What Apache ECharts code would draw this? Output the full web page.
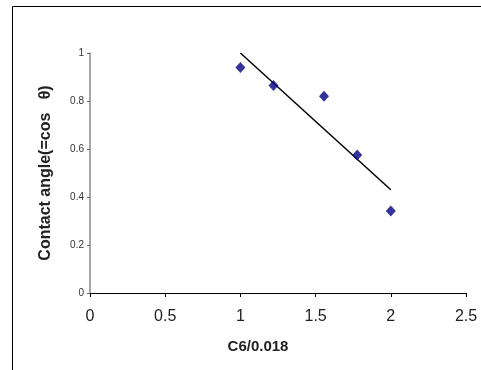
<!DOCTYPE html>
<html><head><meta charset="utf-8">
<script src="https://cdn.jsdelivr.net/npm/echarts@6/dist/echarts.min.js"></script>
<style>html,body{margin:0;padding:0;background:#fff}#c{width:481px;height:370px}</style>
</head><body><div id="c"></div>
<script>
var xValues = [1.0, 1.22, 1.556, 1.777, 2.0];
var yValues = [0.94, 0.865, 0.82, 0.575, 0.342];
var trendX = [1.0, 2.0];
var trendY = [1.0, 0.43];
var xTicks = [0, 0.5, 1, 1.5, 2, 2.5];
var yTicks = [0, 0.2, 0.4, 0.6, 0.8, 1];

var chart = echarts.init(document.getElementById('c'));
chart.setOption({
  animation: false,
  backgroundColor: '#fff',
  grid: {left: 90, right: 15, top: 53, bottom: 77},
  graphic: [{type: 'rect', shape: {x: 12.5, y: 6.5, width: 520, height: 420}, style: {fill: 'none', stroke: '#000', lineWidth: 1}, silent: true}],
  xAxis: {
    type: 'value', min: 0, max: 2.5, interval: 0.5,
    name: 'C6/0.018', nameLocation: 'middle', nameGap: 46,
    nameTextStyle: {fontFamily: 'Liberation Sans', fontSize: 15, fontWeight: 'bold', color: '#222', padding: [0, 40, 0, 0]},
    axisLine: {lineStyle: {color: '#000', width: 1}},
    axisTick: {show: true, length: 4, lineStyle: {color: '#000'}},
    axisLabel: {fontFamily: 'Liberation Sans', fontSize: 16, color: '#222', margin: 16,
      formatter: function (v) { return xTicks.indexOf(v) >= 0 ? String(v) : ''; }},
    splitLine: {show: false}
  },
  yAxis: {
    type: 'value', min: 0, max: 1, interval: 0.2,
    name: 'Contact angle(=cos   θ)', nameLocation: 'middle', nameGap: 36, nameRotate: 90,
    nameTextStyle: {fontFamily: 'Liberation Sans', fontSize: 16, fontWeight: 'bold', color: '#222'},
    axisLine: {show: true, lineStyle: {color: '#888', width: 1.5}},
    axisTick: {show: true, length: 3, lineStyle: {color: '#666'}},
    axisLabel: {fontFamily: 'Liberation Sans', fontSize: 10, color: '#333', margin: 6,
      formatter: function (v) { var s = Math.round(v * 10) / 10; return yTicks.indexOf(s) >= 0 ? String(s) : ''; }},
    splitLine: {show: false}
  },
  series: [
    {type: 'line', data: trendX.map(function (x, i) { return [x, trendY[i]]; }),
     symbol: 'none', lineStyle: {color: '#000', width: 1.5}, z: 2},
    {type: 'scatter', data: xValues.map(function (x, i) { return [x, yValues[i]]; }),
     symbol: 'diamond', symbolSize: [10, 11], itemStyle: {color: '#000080'}, z: 3}
  ]
});
</script></body></html>
